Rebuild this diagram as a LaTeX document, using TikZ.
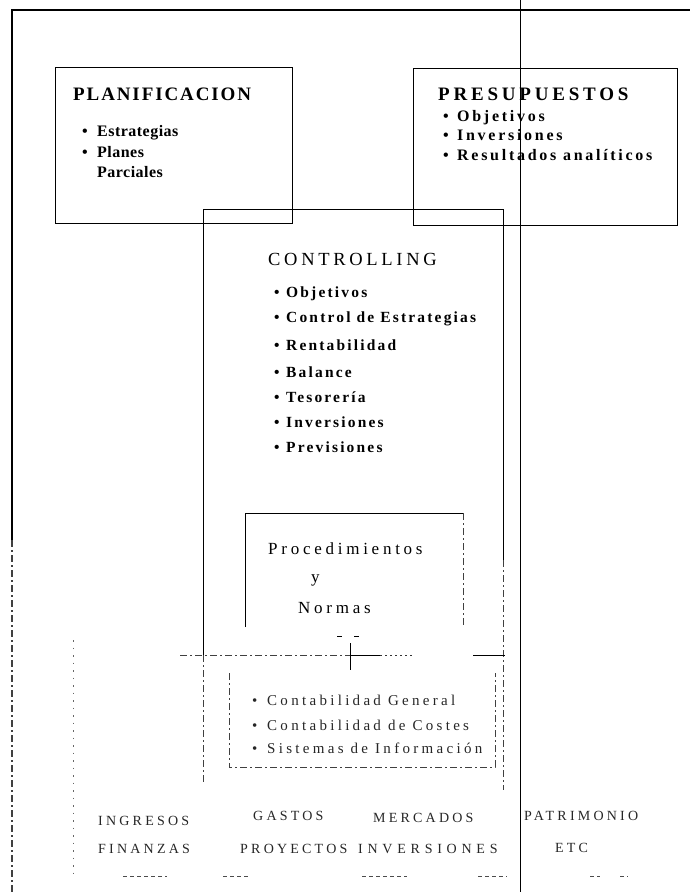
\documentclass[tikz,border=0pt]{standalone}
\usepackage{fontspec}
\setmainfont{Liberation Serif}

\tikzset{
  boxline/.style={line width=1pt, black},
  border/.style={line width=1.6pt, black},
  rule/.style={line width=0.8pt, black},
  faint/.style={line width=0.8pt, black!75, dash pattern=on 7pt off 3pt on 2pt off 3pt},
  dotty/.style={line width=0.7pt, black!60, dash pattern=on 1.5pt off 6pt},
  boxnode/.style={draw, boxline, inner sep=0pt, anchor=north west},
  txt/.style={anchor=base west, inner sep=0pt, black},
  headA/.style={txt, font=\fontsize{19}{21}\selectfont\bfseries\addfontfeature{LetterSpace=10}},
  headB/.style={txt, font=\fontsize{19}{21}\selectfont\bfseries\addfontfeature{LetterSpace=20}},
  itemA/.style={txt, font=\fontsize{16}{18}\selectfont\bfseries\addfontfeature{LetterSpace=3}},
  itemB/.style={txt, font=\fontsize{16}{18}\selectfont\bfseries\addfontfeature{LetterSpace=17}},
  headC/.style={txt, font=\fontsize{18.5}{20}\selectfont\addfontfeature{LetterSpace=20}},
  itemC/.style={txt, font=\fontsize{15.5}{17}\selectfont\bfseries\addfontfeature{LetterSpace=14}},
  proc/.style={txt, font=\fontsize{17}{19}\selectfont\addfontfeature{LetterSpace=22}},
  itemD/.style={txt, black!85, font=\fontsize{15}{17}\selectfont\addfontfeature{LetterSpace=22}},
  area/.style={txt, black!85, font=\fontsize{14}{16}\selectfont\addfontfeature{LetterSpace=23}},
  widearea/.style={area, font=\fontsize{14}{16}\selectfont\addfontfeature{LetterSpace=34}},
}
\newcommand{\bul}[1]{\makebox[#1][l]{\textbullet}}

\begin{document}
\begin{tikzpicture}[x=1pt,y=-1pt]
  \useasboundingbox (0,0) rectangle (690,892);

  % sheet border and the long vertical rule
  \coordinate (tl) at (12,10);
  \coordinate (tr) at (690,10);
  \coordinate (lmid) at (12,540);
  \coordinate (lbot) at (12,892);
  \draw[border] (tr) -- (tl) -- (lmid);
  \draw[faint, line width=1.2pt] (lmid) -- (lbot);
  \coordinate (vtop) at (520,0);
  \coordinate (vbot) at (520,892);
  \draw[rule] (vtop) -- (vbot);

  % PLANIFICACION
  \node[boxnode, minimum width=237pt, minimum height=156pt] (planbox) at (55,67) {};
  \node[headA] (plant) at (73,100) {PLANIFICACION};
  \node[itemA] (plan1) at (82,136) {\bul{15pt}Estrategias};
  \node[itemA] (plan2) at (82,157) {\bul{15pt}Planes};
  \node[itemA] (plan3) at (97,177) {Parciales};

  % PRESUPUESTOS
  \node[boxnode, minimum width=264pt, minimum height=157pt] (presbox) at (413,68) {};
  \node[headB] (prest) at (438,100) {PRESUPUESTOS};
  \node[itemB] (pres1) at (443,121) {\bul{14pt}Objetivos};
  \node[itemB] (pres2) at (443,140) {\bul{14pt}Inversiones};
  \node[itemB] (pres3) at (443,160) {\bul{14pt}Resultados analíticos};

  % CONTROLLING frame (open below)
  \coordinate (c1) at (203,655);
  \coordinate (c2) at (203,209);
  \coordinate (c3) at (503,209);
  \coordinate (c4) at (503,560);
  \coordinate (c5) at (203,783);
  \coordinate (c6) at (503,790);
  \draw[boxline] (c1) -- (c2) -- (c3) -- (c4);
  \draw[faint] (c1) -- (c5);
  \draw[faint] (c4) -- (c6);
  \node[headC] (ctrlt) at (268,265) {CONTROLLING};
  \node[itemC] (ctrl1) at (274,297) {\bul{12pt}Objetivos};
  \node[itemC] (ctrl2) at (274,322) {\bul{12pt}Control de Estrategias};
  \node[itemC] (ctrl3) at (274,350) {\bul{12pt}Rentabilidad};
  \node[itemC] (ctrl4) at (274,377) {\bul{12pt}Balance};
  \node[itemC] (ctrl5) at (274,402) {\bul{12pt}Tesorería};
  \node[itemC] (ctrl6) at (274,427) {\bul{12pt}Inversiones};
  \node[itemC] (ctrl7) at (274,452) {\bul{12pt}Previsiones};

  % Procedimientos y Normas
  \coordinate (p1) at (245,627);
  \coordinate (p2) at (245,513);
  \coordinate (p3) at (463,513);
  \coordinate (p4) at (463,627);
  \draw[boxline] (p1) -- (p2) -- (p3);
  \draw[faint] (p3) -- (p4);
  \node[proc] (proc1) at (268,554) {Procedimientos};
  \node[proc] (proc2) at (311,582) {y};
  \node[proc] (proc3) at (298,613) {Normas};

  % junction below the procedures box
  \coordinate (d1a) at (337,636); \coordinate (d1b) at (342,636);
  \coordinate (d2a) at (354,636); \coordinate (d2b) at (359,636);
  \draw[rule] (d1a) -- (d1b) (d2a) -- (d2b);
  \coordinate (h1) at (180,655);
  \coordinate (h2) at (350,655);
  \coordinate (h3) at (380,655);
  \coordinate (h4) at (413,655);
  \coordinate (h5) at (473,655);
  \coordinate (h6) at (505,655);
  \draw[faint] (h1) -- (h2);
  \draw[rule] (h2) -- (h3);
  \draw[dotty, black!80, dash pattern=on 2pt off 3pt] (h3) -- (h4);
  \draw[rule] (h5) -- (h6);
  \coordinate (v1) at (350,643);
  \coordinate (v2) at (350,670);
  \draw[rule] (v1) -- (v2);

  % accounting box (open on top)
  \coordinate (a1) at (229,673);
  \coordinate (a2) at (229,767);
  \coordinate (a3) at (495,767);
  \coordinate (a4) at (495,673);
  \draw[faint] (a1) -- (a2) -- (a3) -- (a4);
  \node[itemD] (acc1) at (252,705) {\bul{15pt}Contabilidad General};
  \node[itemD] (acc2) at (252,730) {\bul{15pt}Contabilidad de Costes};
  \node[itemD] (acc3) at (252,753) {\bul{15pt}Sistemas de Información};

  % faint guide on the left
  \coordinate (g1) at (73,640);
  \coordinate (g2) at (73,880);
  \draw[dotty] (g1) -- (g2);

  % areas along the bottom
  \node[area] (ar1) at (98,825) {INGRESOS};
  \node[area] (ar2) at (98,853) {FINANZAS};
  \node[area] (ar3) at (253,820) {GASTOS};
  \node[area] (ar4) at (240,853) {PROYECTOS};
  \node[area] (ar5) at (373,822) {MERCADOS};
  \node[widearea] (ar6) at (358,853) {INVERSIONES};
  \node[area] (ar7) at (524,820) {PATRIMONIO};
  \node[area] (ar8) at (555,852) {ETC};

  % short marks under the areas
  \foreach \xa/\xb [count=\i] in {123/167, 223/248, 362/407, 478/507, 590/600, 620/628}{
    \coordinate (m\i a) at (\xa,876);
    \coordinate (m\i b) at (\xb,876);
    \draw[dotty, black!70, dash pattern=on 4pt off 3pt] (m\i a) -- (m\i b);
  }
\end{tikzpicture}
\end{document}
